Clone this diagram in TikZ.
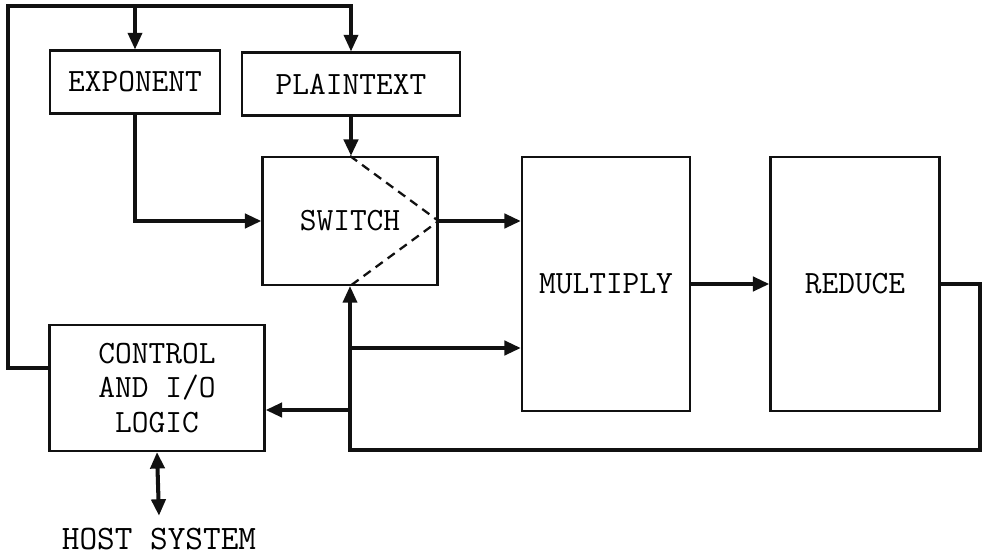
\documentclass[tikz,border=0pt]{standalone}
\usepackage{tikz}
\usetikzlibrary{arrows.meta}
\definecolor{ink}{HTML}{111111}
\newcommand{\blocktype}{\ttfamily\fontsize{18.5}{19.5}\selectfont}
\tikzset{
  fig/.style={line join=miter,>={Triangle[length=0.33cm,width=0.28cm]}},
  unit/.style={draw=ink,line width=1.2pt,font=\blocktype,align=center,inner sep=0pt},
  wire/.style={draw=ink,line width=2.3pt},
  loop/.style={draw=ink,line width=1.9pt}
}
\begin{document}
\begin{tikzpicture}[fig,x=0.02cm,y=-0.02cm]
  \useasboundingbox (0,0) rectangle (985,558);
  \node[unit,minimum width=170*0.02cm,minimum height=63*0.02cm](exponent)at(135,82){EXPONENT};
  \node[unit,minimum width=218*0.02cm,minimum height=63*0.02cm](plaintext)at(351,84){PLAINTEXT};
  \node[unit,minimum width=175*0.02cm,minimum height=128*0.02cm](switch)at(350,221){SWITCH};
  \node[unit,minimum width=168*0.02cm,minimum height=254*0.02cm](multiply)at(606,284){MULTIPLY};
  \node[unit,minimum width=169*0.02cm,minimum height=254*0.02cm](reduce)at(855,284){REDUCE};
  \node[unit,minimum width=215*0.02cm,minimum height=126*0.02cm](control)at(157,388){CONTROL\\AND I/O\\LOGIC};
  \node[font=\ttfamily\fontsize{19.5}{22}\selectfont,inner sep=0pt](host)at(159,539){HOST SYSTEM};
  \coordinate(ctlout)at(50,368);
  \coordinate(ring)at(8,6);
  \coordinate(tapexp)at(exponent.north|-ring);
  \coordinate(fbk)at(980,450);
  \coordinate(tapmul)at(350,348);
  \coordinate(tapctl)at(350,410);
  \draw[loop,->](ctlout)-|(ring)-|(plaintext.north);
  \draw[loop,->](tapexp)--(exponent.north);
  \draw[wire,->](exponent.south)|-(switch.west);
  \draw[wire,->](plaintext.south)--(plaintext.south|-switch.north);
  \draw[ink,line width=1.3pt,dash pattern=on 5pt off 3.5pt](switch.north)--(switch.east)--(switch.south);
  \draw[wire,->](switch.east)--(switch.east-|multiply.west);
  \draw[wire,->](multiply.east)--(reduce.west);
  \draw[loop,->](reduce.east)-|(fbk)-|(switch.south);
  \draw[wire,->](tapmul)--(tapmul-|multiply.west);
  \draw[wire,->](tapctl)--(tapctl-|control.east);
  \draw[wire,<->](control.south)--([yshift=0.24cm]host.north);
\end{tikzpicture}
\end{document}
